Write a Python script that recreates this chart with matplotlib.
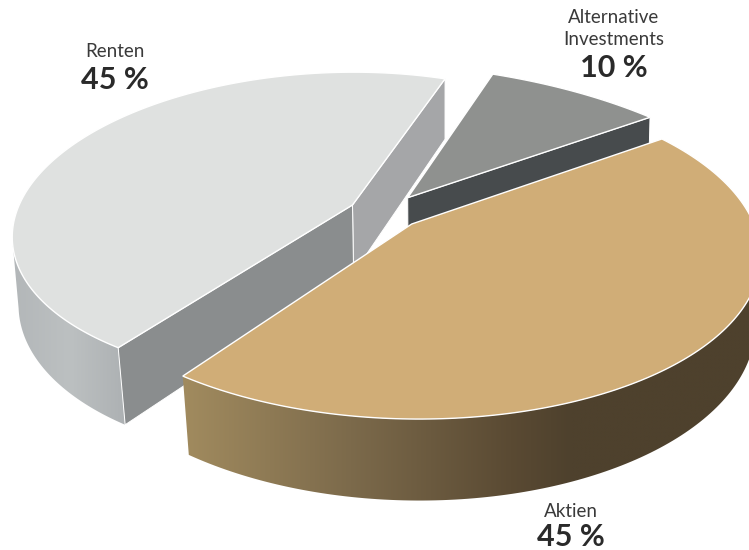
import numpy as np
import matplotlib
matplotlib.use("Agg")
import matplotlib.pyplot as plt
from matplotlib.colors import to_rgb
from matplotlib.patches import Polygon

# chart values
LABELS = ["Renten", "Alternative\nInvestments", "Aktien"]
VALUES = [45, 10, 45]
PERCENT_TEXT = ["45 %", "10 %", "45 %"]

# look of the pie, in picture pixels: tip, ellipse centre, radii, tilt, first angle,
# direction and how much the perspective stretches the angles
TIPS = [(352.5, 205), (407.7, 197.7), (411.7, 224)]
CENTRES = [(331.0, 226.1), (359.9, 276.1), (410.8, 252.2)]
RADII = [(319.0, 153.4), (446.9, 213.1), (349.7, 166.8)]
TILTS = [-2.56, 0.84, 0.84]
STARTS = [-67.8, -73.1, -44.5]
DIRECTIONS = [-1, 1, 1]
STRETCH = [0.982, 0.644, 1.079]

TOP_COLORS = ["#dfe1e0", "#8f918f", "#d0ad77"]
RIM_STOPS = [
    ([14, 70, 126], ["#b3b7b9", "#bcc0c1", "#adb1b3"]),
    ([400, 650], ["#8f918f", "#8f918f"]),
    ([188, 350, 510, 570], ["#a08a5e", "#7c6a4b", "#5a4a33", "#4e412d"]),
]
# the cut faces, None where the top hides them
FIRST_WALL = ["#a5a6a8", None, None]
LAST_WALL = ["#8a8d8e", "#474b4d", None]
LABEL_X = [115, 614, 571]
LABEL_Y = [[57], [23, 45], [517]]
VALUE_Y = [89, 77, 546]


def rim(i, t):
    a, b = RADII[i]
    phi = np.radians(TILTS[i])
    t = np.radians(t)
    x = CENTRES[i][0] + a * np.cos(t) * np.cos(phi) - b * np.sin(t) * np.sin(phi)
    y = CENTRES[i][1] + a * np.cos(t) * np.sin(phi) + b * np.sin(t) * np.cos(phi)
    return x, y


def drop(x, y):
    # lower edge of the slice: deeper at the front, leaning to the middle
    return x + 0.022 * (437 - x) * (y / 350), y + 55.5 + 0.062 * y


def gradient(i, x0, x1):
    xs, cols = RIM_STOPS[i]
    rgb = np.array([to_rgb(c) for c in cols])
    grid = np.linspace(x0, x1, 400)
    return np.stack([np.interp(grid, xs, rgb[:, k]) for k in range(3)], axis=1)[None, :, :]


fig = plt.figure(figsize=(7.49, 5.5), dpi=100)
ax = fig.add_axes([0, 0, 1, 1])

# back to front: Renten, Alternative, Aktien
for i in range(3):
    sweep = VALUES[i] * 3.6 * STRETCH[i] * DIRECTIONS[i]
    t = np.linspace(STARTS[i], STARTS[i] + sweep, 161)
    x, y = rim(i, t)
    x2, y2 = drop(x, y)
    tx, ty = TIPS[i]
    tx2, ty2 = drop(tx, ty)

    # only the front of the rim shows, from its outermost point on
    s = np.argmin(x) if DIRECTIONS[i] < 0 else np.argmax(x)
    wall = np.c_[np.r_[x[s:], x2[s:][::-1]], np.r_[y[s:], y2[s:][::-1]]]
    x0, x1 = wall[:, 0].min(), wall[:, 0].max()
    y0, y1 = wall[:, 1].min(), wall[:, 1].max()
    img = ax.imshow(gradient(i, x0, x1), extent=(x0, x1, y1, y0), aspect="auto",
                    interpolation="bilinear", zorder=i * 10 + 1)
    img.set_clip_path(Polygon(wall, closed=True, transform=ax.transData))

    if FIRST_WALL[i]:
        ax.fill([tx, x[0], x2[0], tx2], [ty, y[0], y2[0], ty2], fc=FIRST_WALL[i],
                ec="white", lw=0.7, zorder=i * 10 + 2)
    if LAST_WALL[i]:
        ax.fill([tx, x[-1], x2[-1], tx2], [ty, y[-1], y2[-1], ty2], fc=LAST_WALL[i],
                ec="white", lw=0.7, zorder=i * 10 + 3)
    ax.fill(np.r_[tx, x], np.r_[ty, y], fc=TOP_COLORS[i], ec="white", lw=1.0,
            joinstyle="miter", zorder=i * 10 + 4)

ax.set_xlim(0, 749)
ax.set_ylim(550, 0)
ax.axis("off")

for i in range(3):
    for line, ly in zip(LABELS[i].split("\n"), LABEL_Y[i]):
        ax.text(LABEL_X[i], ly, line, ha="center", va="baseline", fontsize=13.5,
                family="Lato", color="#3a3a3a", zorder=50)
    ax.text(LABEL_X[i], VALUE_Y[i], PERCENT_TEXT[i], ha="center", va="baseline", fontsize=22,
            family="Lato", fontweight="bold", color="#2a2a2a", zorder=50)

fig.savefig("out.png", dpi=100)
